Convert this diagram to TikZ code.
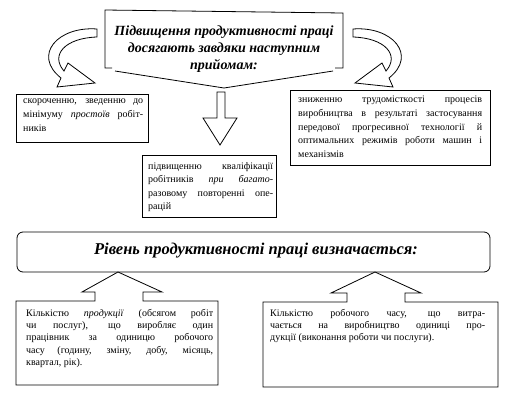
\documentclass[tikz,border=0pt]{standalone}
\usepackage{fontspec}
\setmainfont{Liberation Serif}
\begin{document}
\begin{tikzpicture}[x=1pt,y=-1pt,
  outline/.style={draw, line width=0.8pt, line join=miter, fill=white},
  boxtext/.style={inner sep=0pt, anchor=north west, align=justify, font=\fontsize{10}{13.6}\selectfont},
  lowtext/.style={boxtext, font=\fontsize{10}{12.3}\selectfont},
  headtext/.style={inner sep=0pt, align=center, font=\fontsize{14}{17}\selectfont\bfseries\itshape}]
\useasboundingbox[fill=white] (0,0) rectangle (515,400); % page
\draw[outline, fill=none] (112,68) -- (105,68) -- (105,10) -- (343,13) -- (343,68) -- (335,68); % top callout
\draw[outline, fill=none] (115,71) -- (224,88) -- (333,71); % callout wedge
\node[headtext] (top) at (224,49) {Підвищення продуктивності праці\\досягають завдяки наступним\\прийомам:};
\draw[outline] (97,29) .. controls (58,26) and (32,55) .. (61,78) -- (57,87) -- (95,83) -- (68,63) -- (64,71) .. controls (50,55) and (65,38) .. (97,37) -- cycle; % left curved arrow
\draw[outline] (353,29) .. controls (392,26) and (418,55) .. (389,78) -- (393,87) -- (355,83) -- (382,63) -- (386,71) .. controls (400,55) and (385,38) .. (353,37) -- cycle; % right curved arrow
\draw[outline] (217,92) -- (225,92) -- (225,118) -- (237,118) -- (220,145) -- (203,118) -- (217,118) -- cycle; % down arrow
\draw[outline] (16,94) rectangle (148,142); % left box
\node[boxtext, text width=120pt] (cut) at (23,99) {скороченню, зведенню до\linebreak мінімуму \textit{простоїв} робіт-\linebreak ників};
\draw[outline] (290,90) rectangle (490,165); % right box
\node[boxtext, text width=184pt] (labour) at (298,96) {зниженню трудомісткості процесів\linebreak виробництва в результаті застосування\linebreak передової прогресивної технології й\linebreak оптимальних режимів роботи машин і\linebreak механізмів};
\draw[outline] (142,155) rectangle (276,217); % middle box
\node[boxtext, text width=125pt] (skill) at (148,162) {підвищенню кваліфікації\linebreak робітників \textit{при багато-}\linebreak разовому повторенні опе-\linebreak рацій};
\draw[outline, rounded corners=6pt] (17,232) rectangle (490,272); % level box
\node[headtext, font=\fontsize{16.5}{20}\selectfont\bfseries\itshape] (level) at (256,251) {Рівень продуктивності праці визначається:};
\draw[outline] (95,301) -- (95,292) -- (82,292) -- (118,272) -- (162,292) -- (143,292) -- (143,301) -- (218,301) -- (218,385) -- (16,385) -- (16,301) -- cycle; % output callout
\node[lowtext, text width=187pt] (output) at (26,309) {Кількістю \textit{продукції} (обсягом робіт\linebreak чи послуг), що виробляє один\linebreak працівник за одиницю робочого\linebreak часу (годину, зміну, добу, місяць,\linebreak квартал, рік).};
\draw[outline] (347,302) -- (347,293) -- (331,293) -- (375,272) -- (421,293) -- (405,293) -- (405,302) -- (498,302) -- (498,387) -- (263,387) -- (263,302) -- cycle; % time callout
\node[lowtext, text width=215pt] (time) at (270,309) {Кількістю робочого часу, що витра-\linebreak чається на виробництво одиниці про-\linebreak дукції (виконання роботи чи послуги).};
\end{tikzpicture}
\end{document}
